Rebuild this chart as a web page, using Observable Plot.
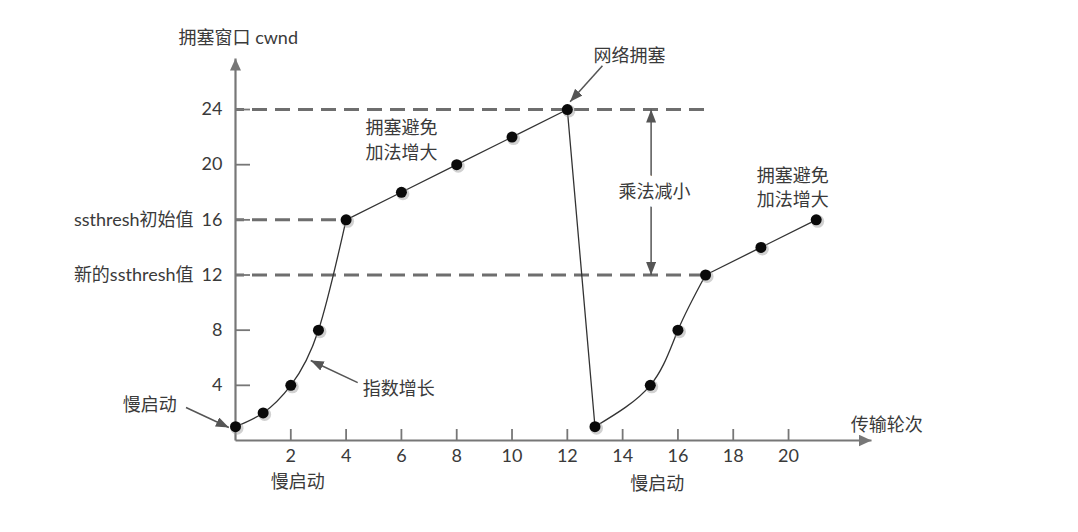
<!DOCTYPE html>
<html><head><meta charset="utf-8">
<script src="https://cdn.jsdelivr.net/npm/d3@7"></script>
<script src="https://cdn.jsdelivr.net/npm/@observablehq/plot@0.6"></script>
<style>body{margin:0;background:#fff} svg{display:block}</style>
</head><body><div id="chart"></div>
<script>
// transmission rounds and congestion window
const rounds = [0, 1, 2, 3, 4, 6, 8, 10, 12, 13, 15, 16, 17, 19, 21];
const cwnd   = [1, 2, 4, 8, 16, 18, 20, 22, 24, 1, 4, 8, 12, 14, 16];
// phases: index ranges into the arrays above
const segStart = [0, 4, 8, 9, 12];
const segEnd   = [4, 8, 9, 12, 14];
const segCurve = ["natural", "linear", "linear", "natural", "linear"];

const xTicks = [2, 4, 6, 8, 10, 12, 14, 16, 18, 20];
const yTicks = [4, 8, 12, 16, 20, 24];
const xAxisEnd = 23;
const yAxisEnd = 27.7;

// dashed reference levels
const levelValues = [24, 16, 12];
const levelEnds   = [17, 4, 17];
const levelLabelValues = [16, 12];
const levelLabels = ["ssthresh初始值", "新的ssthresh值"];

// annotation texts
const noteTexts = ["拥塞避免\n加法增大", "拥塞避免\n加法增大", "网络拥塞", "指数增长", "慢启动", "慢启动", "慢启动", "传输轮次", "拥塞窗口 cwnd"];
const noteX = [6, 20.15, 14.25, 5.9, -3.1, 2.25, 15.25, 23.55, 0.1];
const noteY = [21.9, 18.45, 28.0, 3.9, 2.7, -2.9, -3.0, 1.3, 29.35];

// pointer arrows
const arrowX1 = [13.27, 4.42, -1.79];
const arrowY1 = [27.17, 4.2, 2.39];
const arrowX2 = [12.1, 2.72, -0.24];
const arrowY2 = [24.56, 5.8, 0.94];

// multiplicative decrease
const decreaseX = 15.03;
const decreaseFrom = 24, decreaseTo = 12;
const decreaseLabel = "乘法减小";

const points = rounds.map((r, i) => ({r, c: cwnd[i]}));
const segments = segStart.map((s, i) => ({pts: points.slice(s, segEnd[i] + 1), curve: segCurve[i]}));
const levels = levelValues.map((v, i) => ({v, end: levelEnds[i]}));
const levelTextData = levelLabelValues.map((v, i) => ({v, t: levelLabels[i]}));
const notes = noteTexts.map((t, i) => ({t, x: noteX[i], y: noteY[i]}));
const arrows = arrowX1.map((x1, i) => ({x1, y1: arrowY1[i], x2: arrowX2[i], y2: arrowY2[i]}));

function filledArrow(len, wid) {
  return (color, context) => {
    const doc = (context && context.document) || document;
    const ns = "http://www.w3.org/2000/svg";
    const m = doc.createElementNS(ns, "marker");
    m.setAttribute("viewBox", `0 ${-wid / 2} ${len} ${wid}`);
    m.setAttribute("markerWidth", len);
    m.setAttribute("markerHeight", wid);
    m.setAttribute("markerUnits", "userSpaceOnUse");
    m.setAttribute("refX", len);
    m.setAttribute("refY", 0);
    m.setAttribute("orient", "auto-start-reverse");
    const p = doc.createElementNS(ns, "path");
    p.setAttribute("d", `M0,${-wid / 2}L${len},0L0,${wid / 2}Z`);
    p.setAttribute("fill", color);
    p.setAttribute("stroke", "none");
    m.appendChild(p);
    return m;
  };
}

const font = "Lato, 'Noto Sans CJK SC', sans-serif";
const textColor = "#3a3a3a";
const axisColor = "#777";

const marks = [
  // dashed levels
  Plot.ruleY(levels, {y: "v", x1: 0, x2: "end", stroke: "#6e6e6e", strokeWidth: 3, strokeDasharray: "15,8", strokeDashoffset: 6}),
  // axes lines with arrowheads
  Plot.link([0], {x1: 0, y1: 0, x2: xAxisEnd, y2: 0, stroke: axisColor, strokeWidth: 2.2, markerEnd: filledArrow(13, 12)}),
  Plot.link([0], {x1: 0, y1: 0, x2: 0, y2: yAxisEnd, stroke: axisColor, strokeWidth: 2.2, markerEnd: filledArrow(12, 11)}),
  Plot.axisX(xTicks, {tickSize: -11, tickPadding: 20, stroke: axisColor, strokeWidth: 1.8, fill: textColor, fontSize: 18, fontFamily: font}),
  Plot.axisY(yTicks, {tickSize: -15, tickPadding: 28, stroke: axisColor, strokeWidth: 1.8, fill: textColor, fontSize: 18, fontFamily: font}),
  Plot.text(levelTextData, {x: 0, y: "v", text: "t", dx: -42, textAnchor: "end", fill: textColor, fontSize: 18, fontFamily: font}),
  // data lines
  ...segments.map(s => Plot.line(s.pts, {x: "r", y: "c", curve: s.curve, stroke: "#333", strokeWidth: 1.3})),
  // dot shadows and dots
  Plot.dot(points, {x: "r", y: "c", r: 6.5, fill: "#999", fillOpacity: 0.45, dx: 1.5, dy: 1.5}),
  Plot.dot(points, {x: "r", y: "c", r: 5.5, fill: "#0a0a0a"}),
  // multiplicative decrease arrow
  Plot.link([0], {x1: decreaseX, y1: decreaseTo, x2: decreaseX, y2: decreaseFrom, stroke: "#555", strokeWidth: 1.5,
    markerStart: filledArrow(13, 10), markerEnd: filledArrow(13, 10)}),
  Plot.text([decreaseLabel], {x: decreaseX + 0.12, y: (decreaseFrom + decreaseTo) / 2, text: d => d, fill: textColor,
    stroke: "white", strokeWidth: 14, fontSize: 18, fontFamily: font}),
  // pointer arrows
  Plot.link(arrows, {x1: "x1", y1: "y1", x2: "x2", y2: "y2", stroke: "#555", strokeWidth: 1.5, markerEnd: filledArrow(13, 10)}),
  // annotations
  Plot.text(notes, {x: "x", y: "y", text: "t", fill: textColor, fontSize: 18, lineHeight: 1.38, fontFamily: font})
];

const chart = Plot.plot({
  width: 1078,
  height: 532,
  marginLeft: 235,
  marginRight: 207,
  marginTop: 58,
  marginBottom: 92,
  x: {domain: [0, xAxisEnd]},
  y: {domain: [0, yAxisEnd]},
  style: {fontFamily: font, fontSize: "18px", color: textColor, background: "white", overflow: "visible"},
  marks
});
document.getElementById("chart").appendChild(chart);
</script>
</body></html>
